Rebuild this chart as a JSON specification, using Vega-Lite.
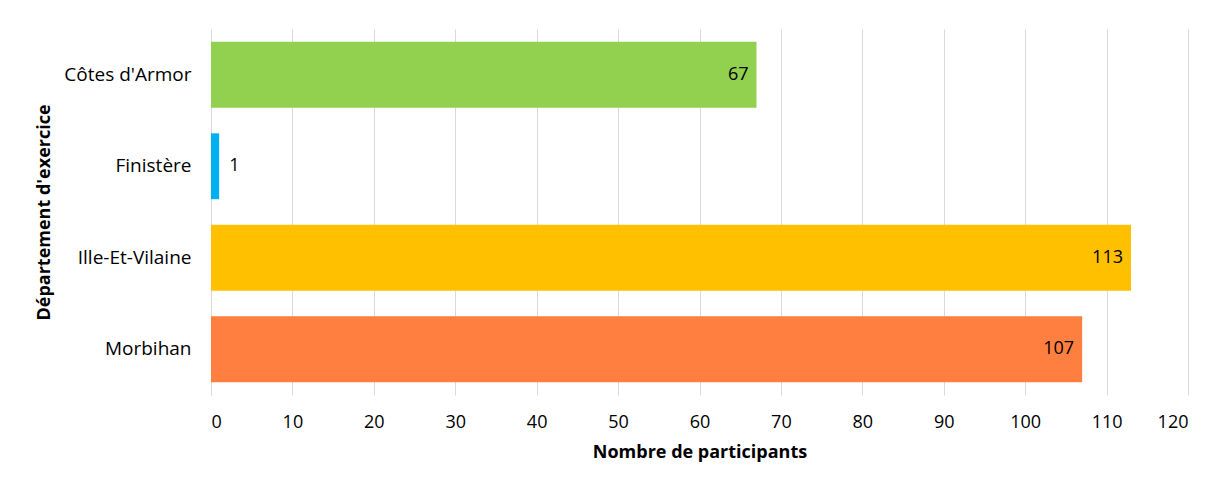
{
  "$schema": "https://vega.github.io/schema/vega-lite/v6.json",
  "autosize": "none",
  "width": 977,
  "height": 366,
  "padding": {"left": 211, "top": 29, "right": 20, "bottom": 84},
  "background": "white",
  "config": {
    "view": {"stroke": null},
    "font": "Open Sans"
  },
  "data": {
    "values": [
      {"departement": "Côtes d'Armor", "participants": 67, "couleur": "#92D050"},
      {"departement": "Finistère", "participants": 1, "couleur": "#00B0F0"},
      {"departement": "Ille-Et-Vilaine", "participants": 113, "couleur": "#FFC000"},
      {"departement": "Morbihan", "participants": 107, "couleur": "#FF7F41"}
    ]
  },
  "encoding": {
    "y": {
      "field": "departement",
      "type": "nominal",
      "sort": null,
      "scale": {"paddingInner": 0.28, "paddingOuter": 0.14},
      "axis": {
        "title": "Département d'exercice",
        "titleFont": "Open Sans",
        "titleFontSize": 18,
        "titleFontWeight": "bold",
        "titleColor": "#000000",
        "titlePadding": 10,
        "labelFont": "Open Sans",
        "labelFontSize": 19,
        "labelColor": "#000000",
        "labelPadding": 20,
        "ticks": false,
        "domain": true,
        "domainColor": "#d9d9d9",
        "grid": false
      }
    },
    "x": {
      "field": "participants",
      "type": "quantitative",
      "scale": {"domain": [0, 120], "nice": false},
      "axis": {
        "title": "Nombre de participants",
        "titleFont": "Open Sans",
        "titleFontSize": 18,
        "titleFontWeight": "bold",
        "titleColor": "#000000",
        "titlePadding": 12,
        "labelFont": "Open Sans",
        "labelFontSize": 18,
        "labelColor": "#000000",
        "labelPadding": 18,
        "values": [0, 10, 20, 30, 40, 50, 60, 70, 80, 90, 100, 110, 120],
        "ticks": false,
        "domain": false,
        "grid": true,
        "gridColor": "#d9d9d9",
        "gridWidth": 1
      }
    }
  },
  "layer": [
    {
      "mark": {"type": "bar"},
      "encoding": {
        "color": {"field": "couleur", "type": "nominal", "scale": null, "legend": null}
      }
    },
    {
      "transform": [{"filter": "datum.participants >= 10"}],
      "mark": {"type": "text", "align": "right", "baseline": "middle", "dx": -8, "fontSize": 18, "color": "#000000", "font": "Open Sans"},
      "encoding": {
        "text": {"field": "participants", "type": "quantitative"}
      }
    },
    {
      "transform": [{"filter": "datum.participants < 10"}],
      "mark": {"type": "text", "align": "left", "baseline": "middle", "dx": 10, "fontSize": 18, "color": "#000000", "font": "Open Sans"},
      "encoding": {
        "text": {"field": "participants", "type": "quantitative"}
      }
    }
  ]
}
